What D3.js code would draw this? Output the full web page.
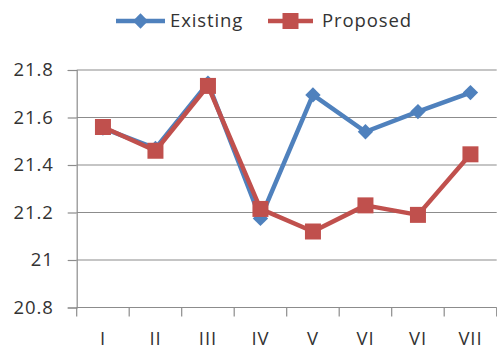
<!DOCTYPE html>
<html><head><meta charset="utf-8">
<script src="https://cdn.jsdelivr.net/npm/d3@7"></script>
<style>body{margin:0;background:#fff}svg{display:block}text{font-family:"Open Sans","Liberation Sans",sans-serif;fill:#333}</style>
</head><body>
<svg id="c" width="497" height="349"></svg>
<script>
const categories = ["I","II","III","IV","V","VI","VI","VII"];
const existing = [21.555, 21.47, 21.745, 21.175, 21.695, 21.54, 21.625, 21.705];
const proposed = [21.56, 21.46, 21.733, 21.215, 21.12, 21.23, 21.19, 21.445];
const yTicks = [20.8, 21, 21.2, 21.4, 21.6, 21.8];
const seriesNames = ["Existing","Proposed"];
const colors = ["#4F81BD","#C0504D"];

(function(){
const svg = d3.select("#c");
const pL = 76.7, pR = 496.7, pT = 70, pB = 307.5;
const x = d3.scaleBand().domain(d3.range(categories.length)).range([pL, pR]);
const y = d3.scaleLinear().domain([20.8, 21.8]).range([pB, pT]);
const ff = "'Open Sans','Liberation Sans',sans-serif";
const fs = 18.5, ls = "0.9px", tc = "#333";

svg.append("g").selectAll("line").data(yTicks).join("line")
  .attr("x1", pL).attr("x2", pR).attr("y1", d=>y(d)).attr("y2", d=>y(d))
  .attr("stroke", "#8c8c8c").attr("stroke-width", 1.2);

const ya = svg.append("g").attr("transform", `translate(${pL},0)`)
  .call(d3.axisLeft(y).tickValues(yTicks).tickSize(9).tickPadding(14).tickFormat(d=>d3.format("")(d)));
ya.select(".domain").attr("stroke", "#8c8c8c").attr("stroke-width", 1.2);
ya.selectAll(".tick line").attr("stroke", "#8c8c8c").attr("stroke-width", 1.2);
ya.selectAll("text").attr("font-size", fs).attr("fill", tc).style("font-family", ff).style("letter-spacing", ls);

const xa = svg.append("g").attr("transform", `translate(0,${pB})`)
  .call(d3.axisBottom(x).tickSize(0).tickPadding(24.4).tickFormat(i=>categories[i]));
xa.select(".domain").remove();
xa.selectAll("text").attr("font-size", fs).attr("fill", tc).style("font-family", ff).style("letter-spacing", ls);
svg.append("g").selectAll("line").data(d3.range(categories.length+1)).join("line")
  .attr("x1", i=>pL + i*x.step()).attr("x2", i=>pL + i*x.step())
  .attr("y1", pB).attr("y2", pB+9).attr("stroke", "#8c8c8c").attr("stroke-width", 1.2);

const cx = i => x(i) + x.bandwidth()/2;
const line = d3.line().x((d,i)=>cx(i)).y(d=>y(d));
[existing, proposed].forEach((vals, s) => {
  svg.append("path").datum(vals).attr("d", line).attr("fill", "none")
    .attr("stroke", colors[s]).attr("stroke-width", 4.5).attr("stroke-linejoin", "round");
  const sym = d3.symbol().type(s===0 ? d3.symbolDiamond2 : d3.symbolSquare).size(s===0 ? 150 : 256);
  svg.append("g").selectAll("path").data(vals).join("path")
    .attr("d", sym).attr("transform", (d,i)=>`translate(${cx(i)},${y(d)})`)
    .attr("fill", colors[s]);
});

const leg = [{x1:116,x2:165,tx:170},{x1:268,x2:313,tx:322}];
leg.forEach((L, s) => {
  const g = svg.append("g");
  g.append("line").attr("x1", L.x1).attr("x2", L.x2).attr("y1", 21).attr("y2", 21)
    .attr("stroke", colors[s]).attr("stroke-width", 4.5);
  const sym = d3.symbol().type(s===0 ? d3.symbolDiamond2 : d3.symbolSquare).size(s===0 ? 150 : 256);
  g.append("path").attr("d", sym).attr("transform", `translate(${(L.x1+L.x2)/2},21)`).attr("fill", colors[s]);
  g.append("text").attr("x", L.tx).attr("y", 21).attr("dy", "0.35em").attr("font-size", fs)
    .style("letter-spacing", ls).attr("fill", tc).text(seriesNames[s]);
});
})();
</script>
</body></html>
